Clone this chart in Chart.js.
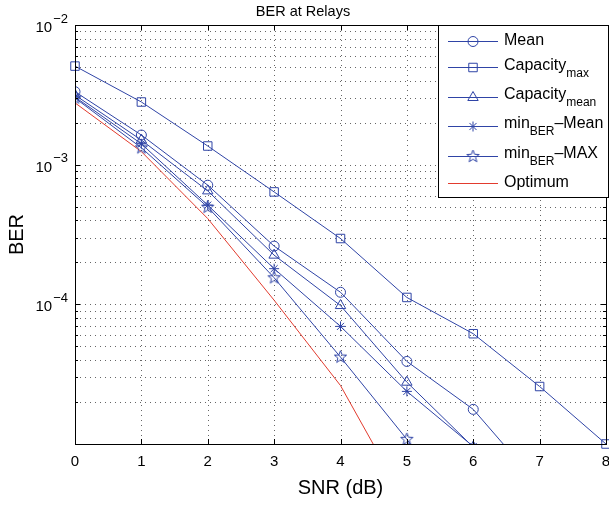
<!DOCTYPE html>
<html lang="en">
<head>
<meta charset="UTF-8">
<title>BER at Relays</title>
<script src="https://cdn.jsdelivr.net/npm/chart.js"></script>
<style>
  body { margin: 0; background: #fff; }
  canvas { display: block; }
</style>
</head>
<body>
<canvas id="berChart" width="609" height="505"></canvas>
<script>
// SNR (dB) on the x axis
var snr = [0, 1, 2, 3, 4, 5, 6, 7, 8];

// BER, one array per scheme
var berMean    = [3.33e-3, 1.63e-3, 7.13e-4, 2.61e-4, 1.22e-4, 3.90e-5, 1.77e-5, 5.0e-6];
var berCapMax  = [5.08e-3, 2.81e-3, 1.36e-3, 6.38e-4, 2.96e-4, 1.12e-4, 6.16e-5, 2.58e-5, 1.0e-5];
var berCapMean = [3.15e-3, 1.50e-3, 6.49e-4, 2.25e-4, 9.8e-5, 2.77e-5, 9.5e-6];
var berMinMean = [3.05e-3, 1.41e-3, 5.13e-4, 1.80e-4, 6.95e-5, 2.38e-5, 9.6e-6];
var berMinMax  = [3.00e-3, 1.32e-3, 4.96e-4, 1.55e-4, 4.19e-5, 1.08e-5, 2.5e-6];
var berOpt     = [2.77e-3, 1.24e-3, 4.11e-4, 1.07e-4, 2.62e-5, 3.7e-6];

// tick labels
var xTicks = [0, 1, 2, 3, 4, 5, 6, 7, 8];
var yTickExps = [-2, -3, -4];

var FONT = 'Liberation Sans, Arial, Helvetica, sans-serif';
var BLUE = '#2f44a6';
var RED = '#e23b2e';

// log grid values 1..9 x 10^k between 1e-5 and 1e-2
var yGrid = [];
for (var k = -5; k < -2; k++) {
    for (var m = 1; m < 10; m++) yGrid.push(m * Math.pow(10, k));
}
yGrid.push(1e-2);

function toPts(arr) {
    return arr.map(function (v, i) { return { x: snr[i], y: v }; });
}

// MATLAB 'p' marker (pentagram outline)
function makePentagram(r, color) {
    var s = Math.ceil(r * 2 + 4);
    var c = document.createElement('canvas');
    c.width = s; c.height = s;
    var g = c.getContext('2d');
    g.strokeStyle = color;
    g.lineWidth = 1;
    g.beginPath();
    for (var i = 0; i < 10; i++) {
        var rad = i % 2 === 0 ? r : r * 0.42;
        var a = -Math.PI / 2 + i * Math.PI / 5;
        var px = s / 2 + rad * Math.cos(a), py = s / 2 + rad * Math.sin(a);
        if (i === 0) g.moveTo(px, py); else g.lineTo(px, py);
    }
    g.closePath();
    g.stroke();
    return c;
}
var pentagram = makePentagram(6.5, BLUE);

// legend labels: [text, isSubscript]
var legendLabels = [
    [['Mean', false]],
    [['Capacity', false], ['max', true]],
    [['Capacity', false], ['mean', true]],
    [['min', false], ['BER', true], ['\u2013Mean', false]],
    [['min', false], ['BER', true], ['\u2013MAX', false]],
    [['Optimum', false]]
];
var legendColors = [BLUE, BLUE, BLUE, BLUE, BLUE, RED];

function series(label, arr, style, radius, color) {
    return {
        label: label,
        data: toPts(arr),
        borderColor: color,
        borderWidth: 1,
        pointStyle: style,
        pointRadius: radius,
        pointHoverRadius: radius,
        pointBorderColor: color,
        pointBorderWidth: 1,
        pointBackgroundColor: 'rgba(0,0,0,0)',
        tension: 0,
        fill: false
    };
}

var datasets = [
    series('Mean', berMean, 'circle', 5, BLUE),
    series('Capacity max', berCapMax, 'rect', 6, BLUE),
    series('Capacity mean', berCapMean, 'triangle', 6, BLUE),
    series('minBER-Mean', berMinMean, 'star', 5, BLUE),
    series('minBER-MAX', berMinMax, pentagram, 6, BLUE),
    series('Optimum', berOpt, false, 0, RED)
];
datasets[1].clip = false;

function drawMarker(ctx, style, r, x, y, color) {
    ctx.save();
    ctx.strokeStyle = color;
    ctx.lineWidth = 1;
    ctx.beginPath();
    if (style === 'circle') {
        ctx.arc(x, y, r, 0, Math.PI * 2);
    } else if (style === 'rect') {
        var h = r * Math.SQRT1_2;
        ctx.rect(x - h, y - h, 2 * h, 2 * h);
    } else if (style === 'triangle') {
        for (var i = 0; i < 3; i++) {
            var a = i * 2 * Math.PI / 3;
            var px = x + Math.sin(a) * r, py = y - Math.cos(a) * r;
            if (i === 0) ctx.moveTo(px, py); else ctx.lineTo(px, py);
        }
        ctx.closePath();
    } else if (style === 'star') {
        for (var j = 0; j < 4; j++) {
            var b = j * Math.PI / 4;
            ctx.moveTo(x - Math.sin(b) * r, y - Math.cos(b) * r);
            ctx.lineTo(x + Math.sin(b) * r, y + Math.cos(b) * r);
        }
    } else if (style && style.getContext) {
        ctx.drawImage(style, x - style.width / 2, y - style.height / 2);
    }
    ctx.stroke();
    ctx.restore();
}

var matlabAxes = {
    id: 'matlabAxes',
    beforeDatasetsDraw: function (chart) {
        var ctx = chart.ctx, a = chart.chartArea;
        var xs = chart.scales.x, ys = chart.scales.y;
        ctx.save();
        ctx.strokeStyle = 'rgba(0,0,0,0.6)';
        ctx.lineWidth = 1;
        ctx.setLineDash([1, 4]);
        yGrid.forEach(function (v) {
            var py = Math.round(ys.getPixelForValue(v)) + 0.5;
            ctx.beginPath();
            ctx.moveTo(a.left, py);
            ctx.lineTo(a.right, py);
            ctx.stroke();
        });
        xTicks.forEach(function (v) {
            var px = Math.round(xs.getPixelForValue(v)) + 0.5;
            ctx.beginPath();
            ctx.moveTo(px, a.top);
            ctx.lineTo(px, a.bottom);
            ctx.stroke();
        });
        ctx.restore();
    },
    afterDraw: function (chart) {
        var ctx = chart.ctx, a = chart.chartArea;
        var xs = chart.scales.x, ys = chart.scales.y;
        ctx.save();
        ctx.strokeStyle = '#000';
        ctx.lineWidth = 1;
        // inner tick marks
        ctx.beginPath();
        xTicks.forEach(function (v) {
            var px = Math.round(xs.getPixelForValue(v)) + 0.5;
            ctx.moveTo(px, a.bottom); ctx.lineTo(px, a.bottom - 5);
            ctx.moveTo(px, a.top); ctx.lineTo(px, a.top + 5);
        });
        yGrid.forEach(function (v) {
            var py = Math.round(ys.getPixelForValue(v)) + 0.5;
            var major = Math.abs(Math.log10(v) - Math.round(Math.log10(v))) < 1e-9;
            var len = major ? 5 : 3;
            ctx.moveTo(a.left, py); ctx.lineTo(a.left + len, py);
            ctx.moveTo(a.right, py); ctx.lineTo(a.right - len, py);
        });
        ctx.stroke();
        // axes box
        ctx.strokeRect(Math.round(a.left) + 0.5, Math.round(a.top) + 0.5,
            Math.round(a.right - a.left), Math.round(a.bottom - a.top));

        ctx.fillStyle = '#000';
        ctx.textBaseline = 'middle';
        // x tick labels
        ctx.font = '15px ' + FONT;
        ctx.textAlign = 'center';
        xTicks.forEach(function (v) {
            ctx.fillText(String(v), xs.getPixelForValue(v), a.bottom + 18);
        });
        // y tick labels 10^k
        yTickExps.forEach(function (e) {
            var py = ys.getPixelForValue(Math.pow(10, e));
            var sup = '\u2212' + Math.abs(e);
            ctx.font = '13px ' + FONT;
            var supW = ctx.measureText(sup).width;
            ctx.textAlign = 'left';
            var supX = a.left - 7 - supW;
            ctx.fillText(sup, supX, py - 6);
            ctx.font = '15px ' + FONT;
            ctx.textAlign = 'right';
            ctx.fillText('10', supX - 1, py + 3);
        });

        // legend box
        var lx = 438.5, ly = Math.round(a.top) + 0.5, lw = 170, lh = 172;
        ctx.fillStyle = '#fff';
        ctx.fillRect(lx, ly, lw, lh);
        ctx.strokeStyle = '#000';
        ctx.strokeRect(lx, ly, lw, lh);
        var rowY = [40.7, 67.3, 96.7, 126, 155.5, 183];
        chart.data.datasets.forEach(function (ds, i) {
            var y = Math.round(rowY[i]) + 0.5;
            ctx.strokeStyle = legendColors[i];
            ctx.beginPath();
            ctx.moveTo(448, y);
            ctx.lineTo(498, y);
            ctx.stroke();
            if (ds.pointStyle) drawMarker(ctx, ds.pointStyle, ds.pointRadius, 473, y, legendColors[i]);
            var tx = 504;
            var hasSub = legendLabels[i].some(function (p) { return p[1]; });
            var baseY = hasSub ? rowY[i] - 2 : rowY[i];
            ctx.fillStyle = '#000';
            ctx.textAlign = 'left';
            ctx.textBaseline = 'middle';
            legendLabels[i].forEach(function (p) {
                ctx.font = (p[1] ? '12px ' : '16px ') + FONT;
                ctx.fillText(p[0], tx, p[1] ? baseY + 8 : baseY);
                tx += ctx.measureText(p[0]).width;
            });
        });
        ctx.restore();
    }
};

new Chart(document.getElementById('berChart'), {
    type: 'line',
    data: { datasets: datasets },
    options: {
        responsive: false,
        animation: false,
        events: [],
        layout: { autoPadding: false, padding: { left: 0, right: 3, top: 0, bottom: 0 } },
        plugins: {
            legend: { display: false },
            tooltip: { enabled: false },
            title: {
                display: true,
                text: 'BER at Relays',
                color: '#000',
                font: { family: FONT, size: 14.5, weight: 'normal' },
                padding: { top: 3, bottom: 4.6 }
            }
        },
        scales: {
            x: {
                type: 'linear',
                min: 0,
                max: 8,
                grid: { display: false },
                border: { display: false },
                afterBuildTicks: function (s) {
                    s.ticks = xTicks.map(function (v) { return { value: v }; });
                },
                afterFit: function (s) {
                    s.height = 61;
                    s.paddingLeft = 0;
                    s.paddingRight = 0;
                },
                ticks: {
                    callback: function () { return ''; },
                    maxRotation: 0,
                    autoSkip: false
                },
                title: {
                    display: true,
                    text: 'SNR (dB)',
                    color: '#000',
                    font: { family: FONT, size: 20 },
                    padding: { top: 0, bottom: 5 }
                }
            },
            y: {
                type: 'logarithmic',
                min: 1e-5,
                max: 1e-2,
                grid: { display: false },
                border: { display: false },
                afterBuildTicks: function (s) {
                    s.ticks = yGrid.map(function (v) { return { value: v }; });
                },
                afterFit: function (s) {
                    s.width = 75;
                    s.paddingTop = 0;
                    s.paddingBottom = 0;
                },
                ticks: {
                    callback: function () { return ''; }
                },
                title: {
                    display: true,
                    text: 'BER',
                    color: '#000',
                    font: { family: FONT, size: 20 },
                    padding: { top: 5, bottom: 0 }
                }
            }
        }
    },
    plugins: [matlabAxes]
});
</script>
</body>
</html>
